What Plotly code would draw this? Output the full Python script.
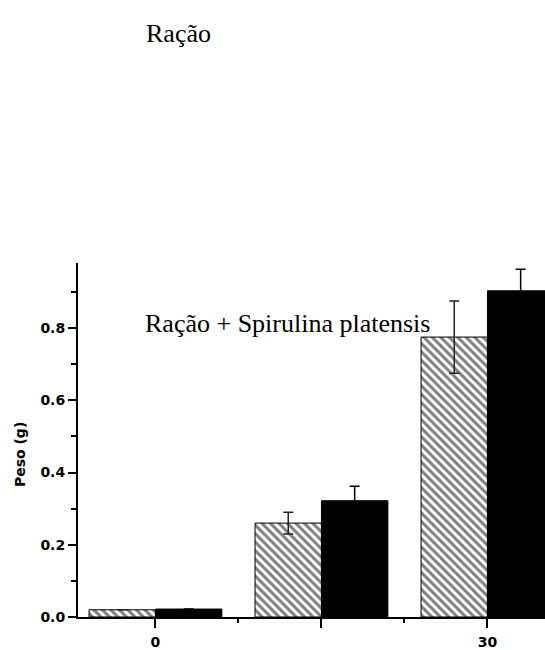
import plotly.graph_objects as go

# Data
days = [0, 15, 30]
racao = [0.02, 0.26, 0.775]
racao_err = [0.0, 0.03, 0.10]
spirulina = [0.022, 0.322, 0.903]
spirulina_err = [0.0, 0.04, 0.06]
tick_vals = [0, 15, 30]
tick_text = ["0", "", "30"]

bar_w = 6
x_racao = [d - bar_w / 2 for d in days]
x_spir = [d + bar_w / 2 for d in days]

fig = go.Figure()
fig.add_trace(go.Bar(
    x=x_racao, y=racao, width=bar_w,
    marker=dict(color="white",
                pattern=dict(shape="\\", fgcolor="black", bgcolor="white", size=6, solidity=0.5),
                line=dict(color="black", width=1)),
    error_y=dict(type="data", array=racao_err, color="#222222", thickness=1.5, width=5),
    showlegend=False,
))
fig.add_trace(go.Bar(
    x=x_spir, y=spirulina, width=bar_w,
    marker=dict(color="black", line=dict(color="black", width=1)),
    error_y=dict(type="data", array=spirulina_err, color="black", thickness=1.5, width=5),
    showlegend=False,
))

L, R, T, B = 78, 0, 263, 24
W, H = 545, 650
pw, ph = W - L - R, H - T - B

def px(xp):
    return (xp - L) / pw

def py(yp):
    return (H - B - yp) / ph

fig.update_layout(
    width=W, height=H,
    margin=dict(l=L, r=R, t=T, b=B, pad=0),
    paper_bgcolor="white", plot_bgcolor="white",
    barmode="overlay",
    xaxis=dict(range=[-7, 35.2], tickvals=tick_vals, ticktext=tick_text,
               showgrid=False, zeroline=False, showline=True, linecolor="black", linewidth=2,
               ticks="outside", ticklen=9, tickwidth=2, tickcolor="black", ticklabelstandoff=2,
               minor=dict(tickvals=[7.5, 22.5], ticks="outside", ticklen=4, tickwidth=1.5, tickcolor="black"),
               tickfont=dict(family="DejaVu Sans", size=14, color="black", weight="bold")),
    yaxis=dict(range=[0, 0.98], tickvals=[0, 0.2, 0.4, 0.6, 0.8],
               ticktext=["0.0", "0.2", "0.4", "0.6", "0.8"],
               showgrid=False, zeroline=False, showline=True, linecolor="black", linewidth=2,
               ticks="outside", ticklen=8, tickwidth=1.5, tickcolor="black",
               minor=dict(tickvals=[0.1, 0.3, 0.5, 0.7, 0.9], ticks="outside", ticklen=5, tickwidth=1.5, tickcolor="black"),
               tickfont=dict(family="DejaVu Sans", size=14, color="black", weight="bold")),
    annotations=[
        dict(text="Ração", xref="paper", yref="paper", x=px(144), y=py(28),
             xanchor="left", yanchor="middle", showarrow=False,
             font=dict(family="Liberation Serif", size=26, color="black")),
        dict(text="Ração + Spirulina platensis", xref="paper", yref="paper", x=px(143), y=py(325),
             xanchor="left", yanchor="middle", showarrow=False,
             font=dict(family="Liberation Serif", size=26, color="black")),
        dict(text="Peso (g)", xref="paper", yref="paper", x=px(20), y=py(460),
             xanchor="center", yanchor="middle", textangle=-90, showarrow=False,
             font=dict(family="DejaVu Sans", size=14, color="black", weight="bold")),
    ],
)

fig.write_html("out.html")
